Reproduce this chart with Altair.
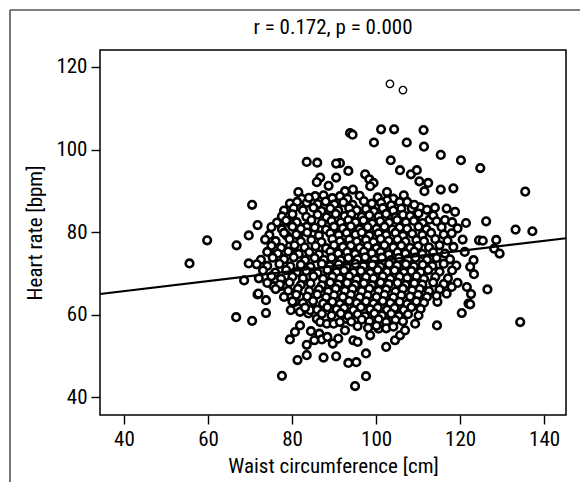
import altair as alt
import pandas as pd

# Sparse / outlying points (waist cm, heart rate bpm)
outer_points = [
    (93.8,104.0),(94.4,103.6),(101.2,104.9),(104.3,104.9),(111.3,104.7),
    (99.5,101.7),(107.3,101.7),(111.4,100.7),(115.4,98.7),(120.2,97.4),(124.8,95.5),
    (103.5,97.4),(105.7,95.0),(108.3,94.0),(109.7,95.0),(110.3,92.3),(112.4,91.9),(111.5,89.9),(115.4,90.3),(118.4,90.6),
    (93.4,94.8),(91.4,96.7),(97.4,94.0),(98.4,92.8),(99.4,91.9),(98.6,91.1),
    (92.6,89.9),(94.5,90.3),(102.6,89.7),(104.1,88.1),(105.6,87.3),(102.6,87.7),
    (116.8,85.7),(118.8,84.9),(116.4,82.9),(121.4,82.2),(124.5,78.0),(112.7,83.0),
    (110.5,86.0),(108.5,85.7),(109.3,83.7),(107.3,83.7),
    (83.5,97.0),(86.0,96.8),(90.5,96.6),
    (86.7,93.2),(85.9,92.1),(90.5,93.2),(88.7,91.2),
    (81.5,89.7),(82.3,88.1),(83.5,87.1),(85.5,88.7),(79.5,86.9),(70.5,86.6),
    (71.8,81.7),(69.7,79.2),(66.8,76.8),
    (79.5,82.2),(81.9,81.1),(83.5,81.3),(81.5,79.2),(78.7,79.2),
    (79.5,76.6),(81.1,74.8),(75.6,74.4),(77.2,73.8),
    (59.8,78.0),(55.6,72.4),(69.7,72.4),(68.6,68.3),(71.8,64.9),(66.7,59.4),(70.5,58.5),
    (72.0,65.1),(73.8,63.5),(73.8,60.4),
    (75.6,66.9),(77.3,66.9),(78.7,66.9),
    (79.5,64.3),(80.7,63.1),(81.9,64.3),(79.7,61.1),(81.9,60.7),(83.9,60.3),(84.3,61.1),
    (85.9,59.0),(86.7,58.2),(88.3,57.8),(89.9,57.8),(91.4,58.2),(93.0,59.0),
    (81.9,57.4),(80.7,55.8),(79.5,54.0),
    (84.5,56.0),(86.5,55.4),(87.1,54.0),(85.3,53.8),(83.5,52.7),(88.4,54.6),(89.7,53.0),
    (91.0,54.2),(92.6,56.2),(94.6,53.8),(95.6,53.4),
    (83.5,50.2),(81.3,49.0),(87.5,49.6),(90.5,49.9),(93.4,48.3),(95.3,48.5),
    (77.6,45.2),(95.0,42.7),(97.6,50.6),(97.6,45.1),
    (98.6,55.0),(100.6,56.6),(102.4,52.2),(104.5,53.8),(105.7,55.0),(106.9,56.2),
    (109.3,57.8),(114.5,57.4),(120.4,60.4),(122.0,62.7),
    (126.2,82.6),(133.2,80.6),(137.2,80.2),(135.5,89.8),(134.3,58.2),
    (125.4,77.9),(128.6,78.1),(128.1,76.0),(129.4,74.8),
    (123.2,73.2),(123.3,69.8),(122.4,71.6),(126.5,66.1),(122.6,65.0),(122.4,62.5),
    (121.6,66.7),(119.4,67.7),(118.0,66.7),(116.8,65.1),(114.6,63.1),
]

# Two highest readings (drawn with thinner rings in the original)
top_points = [(103.3,115.9),(106.4,114.4)]

# Dense central cloud
core_points = [
    (84.0,88.3),(87.5,88.9),(89.6,88.2),(91.4,88.7),(93.2,88.1),(96.1,88.8),(100.4,88.4),(106.6,88.9),
    (81.2,87.3),(86.1,86.8),(88.0,87.4),(90.1,86.7),(92.2,87.2),(94.4,86.6),(97.1,87.5),(99.0,86.9),(101.2,87.1),(103.6,86.5),(107.4,87.3),(109.1,86.6),
    (78.1,85.2),(80.4,85.8),(82.6,85.3),(85.1,85.9),(87.0,85.1),(89.1,85.7),(91.0,85.2),(93.6,85.8),(95.4,85.3),(97.6,85.6),(99.5,85.0),(101.6,85.8),(104.1,85.2),(106.0,85.7),(112.1,85.4),(114.0,85.9),
    (77.6,83.8),(80.1,84.3),(83.4,83.7),(86.1,84.2),(88.2,83.6),(90.4,84.4),(92.5,83.9),(94.1,84.3),(96.6,83.7),(98.4,84.1),(100.6,83.8),(102.4,84.4),(104.6,83.6),(106.4,84.2),(108.1,83.9),(110.1,84.5),(113.6,84.0),
    (76.4,82.3),(78.6,82.8),(81.1,82.4),(84.6,82.9),(87.1,82.2),(89.4,82.7),(91.6,82.3),(93.4,82.9),(95.1,82.4),(97.0,82.8),(99.1,82.1),(101.0,82.6),(103.1,82.3),(105.0,82.9),(107.1,82.4),(109.0,82.7),(111.1,82.2),(114.4,82.6),(118.1,82.4),
    (75.1,81.2),(77.6,80.7),(80.1,81.3),(82.1,80.8),(85.4,81.1),(88.1,80.6),(90.0,81.3),(92.1,80.9),(94.0,81.4),(96.1,80.7),(98.0,81.2),(100.1,80.8),(102.0,81.3),(103.9,80.6),(105.6,81.1),(107.4,80.8),(110.1,81.3),(112.0,80.7),(115.6,81.2),(119.4,80.9),
    (74.6,79.3),(78.1,79.8),(81.0,79.4),(83.6,79.9),(86.4,79.2),(89.1,79.7),(91.1,79.3),(93.0,79.8),(95.1,79.4),(96.6,79.9),(98.4,79.2),(100.6,79.7),(102.4,79.3),(104.6,79.8),(106.4,79.1),(108.6,79.6),(111.0,79.3),(113.1,79.8),(116.1,79.4),(118.0,79.7),
    (73.6,78.2),(76.1,77.8),(79.4,78.3),(82.1,77.7),(84.6,78.1),(87.0,77.6),(89.6,78.3),(91.4,77.8),(93.6,78.2),(95.4,77.7),(97.6,78.1),(99.4,77.6),(101.1,78.3),(103.0,77.9),(105.1,78.2),(107.0,77.7),(109.6,78.1),(111.4,77.8),(114.1,78.3),(117.0,77.9),(120.6,78.2),
    (75.1,76.7),(77.4,76.2),(80.6,76.8),(83.0,76.3),(85.6,76.6),(88.1,76.1),(90.0,76.8),(92.1,76.4),(94.0,76.7),(96.1,76.2),(98.0,76.6),(100.1,76.1),(102.0,76.8),(104.1,76.3),(106.0,76.7),(108.1,76.2),(110.0,76.6),(112.6,76.3),(115.1,76.8),(118.4,76.4),
    (74.1,75.2),(76.6,74.8),(79.1,75.3),(81.6,74.7),(84.1,75.1),(86.4,74.6),(89.1,75.3),(91.0,74.8),(93.1,75.2),(95.0,74.7),(97.1,75.3),(99.0,74.9),(101.1,75.2),(103.0,74.6),(105.1,75.1),(107.0,74.8),(109.1,75.3),(111.0,74.7),(113.6,75.1),(116.4,74.8),(121.1,75.2),
    (72.6,73.3),(75.4,73.8),(78.1,73.4),(80.4,73.9),(83.1,73.2),(85.4,73.7),(87.6,73.3),(89.4,73.8),(91.6,73.2),(93.4,73.7),(95.6,73.4),(97.4,73.9),(99.6,73.3),(101.4,73.8),(103.6,73.2),(105.4,73.7),(107.6,73.4),(109.4,73.8),(112.1,73.3),(114.4,73.7),(117.6,73.4),
    (71.6,72.2),(74.1,71.8),(77.0,72.3),(79.6,71.7),(82.1,72.1),(84.4,71.6),(87.1,72.3),(89.0,71.8),(91.1,72.2),(93.0,71.7),(95.1,72.3),(97.0,71.8),(99.1,72.1),(101.0,71.6),(103.1,72.3),(105.0,71.9),(107.1,72.2),(109.0,71.7),(111.1,72.1),(113.4,71.8),(116.1,72.3),(119.1,71.9),
    (73.1,70.7),(76.0,70.2),(78.6,70.8),(81.1,70.3),(83.4,70.6),(86.1,70.1),(88.4,70.8),(90.6,70.3),(92.4,70.7),(94.6,70.2),(96.4,70.6),(98.6,70.1),(100.4,70.8),(102.6,70.4),(104.4,70.7),(106.6,70.2),(108.4,70.6),(110.6,70.3),(112.4,70.8),(115.1,70.4),(118.1,70.7),
    (72.1,68.8),(75.1,69.3),(77.4,68.7),(80.1,69.2),(82.6,68.8),(85.1,69.3),(87.4,68.7),(89.6,69.2),(91.4,68.8),(93.6,69.3),(95.4,68.6),(97.6,69.1),(99.4,68.8),(101.6,69.3),(103.4,68.7),(105.6,69.2),(107.4,68.9),(109.6,69.3),(111.4,68.7),(114.1,69.1),(117.1,68.8),
    (74.1,67.7),(77.1,67.3),(79.4,67.8),(82.1,67.2),(84.4,67.6),(87.1,67.1),(89.1,67.8),(91.0,67.3),(93.1,67.7),(95.0,67.2),(97.1,67.6),(99.0,67.1),(101.1,67.8),(103.0,67.4),(105.1,67.7),(107.0,67.2),(109.1,67.6),(111.0,67.3),(113.6,67.8),(116.1,67.4),
    (76.1,66.2),(79.1,65.8),(81.4,66.3),(84.1,65.7),(86.4,66.1),(88.6,65.6),(90.4,66.3),(92.6,65.8),(94.4,66.2),(96.6,65.7),(98.4,66.3),(100.6,65.8),(102.4,66.1),(104.6,65.6),(106.4,66.3),(108.6,65.9),(110.4,66.2),(112.6,65.7),(115.1,66.1),
    (78.1,64.3),(81.0,64.8),(83.6,64.4),(86.0,64.9),(88.1,64.2),(90.0,64.7),(92.1,64.3),(94.0,64.8),(96.1,64.2),(98.0,64.7),(100.1,64.3),(102.0,64.8),(104.1,64.2),(106.0,64.7),(108.1,64.4),(110.0,64.8),(112.1,64.3),(114.4,64.6),
    (80.1,63.2),(82.6,62.8),(85.0,63.3),(87.4,62.7),(89.6,63.1),(91.4,62.6),(93.6,63.3),(95.4,62.8),(97.6,63.2),(99.4,62.7),(101.6,63.3),(103.4,62.8),(105.6,63.1),(107.4,62.6),(109.6,63.2),(111.4,62.9),
    (83.1,61.7),(86.0,61.2),(88.4,61.8),(90.6,61.3),(92.4,61.6),(94.6,61.1),(96.4,61.8),(98.6,61.3),(100.4,61.7),(102.6,61.2),(104.4,61.6),(106.6,61.1),(108.4,61.8),(110.6,61.4),
    (87.1,60.2),(89.4,59.8),(91.6,60.3),(93.4,59.7),(95.6,60.1),(97.4,59.6),(99.6,60.3),(101.4,59.8),(103.6,60.2),(105.4,59.7),(107.6,60.1),(110.1,59.8),
    (94.1,58.3),(96.6,58.8),(98.4,58.4),(100.6,58.9),(102.4,58.2),(104.6,58.7),(106.4,58.4),
    (95.6,57.2),(98.1,56.8),(100.1,57.3),(102.4,56.7),(104.1,57.1),
]

# Regression line (from the original fit)
reg_intercept = 60.83
reg_slope = 0.1217

title_text = ["r = 0.172, p = 0.000"]
x_domain = [34.3, 145.2]
y_domain = [35.7, 124.1]
x_ticks = [40, 60, 80, 100, 120, 140]
y_ticks = [40, 60, 80, 100, 120]

FONT = "Liberation Sans Narrow, Roboto Condensed, DejaVu Sans Condensed, sans-serif"
FS = 21

pts = outer_points + core_points
df = pd.DataFrame(pts, columns=["waist", "hr"])
df_top = pd.DataFrame(top_points, columns=["waist", "hr"])
df_line = pd.DataFrame({"waist": x_domain,
                        "hr": [reg_intercept + reg_slope * v for v in x_domain]})

xs = alt.Scale(domain=x_domain, nice=False, zero=False)
ys = alt.Scale(domain=y_domain, nice=False, zero=False)

x_enc = alt.X("waist:Q", scale=xs, title="Waist circumference [cm]",
              axis=alt.Axis(values=x_ticks, format="d"))
y_enc = alt.Y("hr:Q", scale=ys, title="Heart rate [bpm]",
              axis=alt.Axis(values=y_ticks, format="d"))

points = alt.Chart(df).mark_point(
    shape="circle", filled=False, fill="white", fillOpacity=1,
    stroke="black", strokeWidth=2.6, size=58, opacity=1
).encode(x=x_enc, y=y_enc)

top = alt.Chart(df_top).mark_point(
    shape="circle", filled=False, fill="white", fillOpacity=1,
    stroke="black", strokeWidth=1.4, size=55, opacity=1
).encode(x="waist:Q", y="hr:Q")

line = alt.Chart(df_line).mark_line(color="black", strokeWidth=2.2).encode(
    x="waist:Q", y="hr:Q")

title = alt.Chart(pd.DataFrame({"t": title_text})).mark_text(
    font=FONT, fontSize=FS, color="black", align="center", baseline="middle"
).encode(text="t:N", x=alt.value(233), y=alt.value(-22))

frame_df = pd.DataFrame({"k": [0]})
top_rule = alt.Chart(frame_df).mark_rule(color="#555555", strokeWidth=1.6).encode(
    x=alt.value(-90), x2=alt.value(480), y=alt.value(-40))
left_rule = alt.Chart(frame_df).mark_rule(color="#555555", strokeWidth=1.6).encode(
    x=alt.value(-90), y=alt.value(-40), y2=alt.value(440))

chart = alt.layer(points, top, line, title, top_rule, left_rule).properties(
    width=466, height=365,
    autosize=alt.AutoSizeParams(type="none"),
    padding={"left": 100, "top": 50, "right": 14, "bottom": 67},
).configure_view(
    stroke="black", strokeWidth=1.5
).configure_axis(
    grid=False, domain=False, ticks=True, tickColor="black", tickWidth=1.4,
    tickSize=9, labelFont=FONT, labelFontSize=FS, labelColor="black",
    titleFont=FONT, titleFontSize=FS, titleColor="black", titleFontWeight="normal",
    labelPadding=4
).configure_axisX(
    titlePadding=6
).configure_axisY(
    titlePadding=10
)

chart.save("out.html", embed_options={"renderer": "svg", "actions": False})
